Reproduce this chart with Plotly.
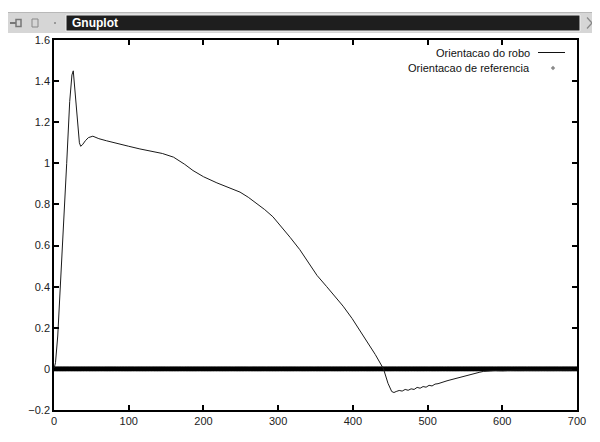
import plotly.graph_objects as go

# ---- data ----
robo_t = [0, 2, 5, 9, 12.5, 17, 21, 24, 25.8, 27.5, 30, 32, 34, 35.7, 38, 42, 46, 52, 60, 70,
          80, 90, 100, 115, 130, 145, 160, 175, 186, 200, 218, 235, 249, 260, 271, 282, 293, 305,
          316, 329, 340, 352, 365, 375, 387, 399, 410, 419, 430, 441, 447, 452, 455,
          458, 462, 466, 470, 474, 478, 482, 486, 490, 494, 498, 502, 506, 510, 514, 518,
          522, 526, 530, 534, 538, 542, 546, 550, 555, 560, 565, 570, 575, 580, 590, 600,
          620, 640, 660, 680, 700]
robo_val = [0.0, 0.03, 0.16, 0.42, 0.68, 1.0, 1.3, 1.43, 1.45, 1.38, 1.25, 1.17, 1.1, 1.083,
            1.09, 1.11, 1.125, 1.132, 1.12, 1.11, 1.1, 1.09, 1.083, 1.07, 1.06, 1.048, 1.03,
            0.995, 0.965, 0.935, 0.905, 0.88, 0.86, 0.835, 0.805, 0.775, 0.74, 0.69, 0.64, 0.58,
            0.52, 0.455, 0.40, 0.355, 0.305, 0.245, 0.185, 0.135, 0.07, 0.0, -0.07, -0.11,
            -0.115, -0.11, -0.105, -0.108, -0.1, -0.104, -0.097, -0.1, -0.09, -0.094, -0.086,
            -0.089, -0.08, -0.083, -0.074, -0.072, -0.066, -0.062, -0.058, -0.054, -0.05,
            -0.045, -0.042, -0.038, -0.034, -0.028, -0.024, -0.02, -0.016, -0.012, -0.01,
            -0.008, -0.009, -0.006, -0.007, -0.005, -0.006, -0.005]

ref_t = list(range(0, 701))
ref_val = [0.0] * len(ref_t)

x_ticks = [0, 100, 200, 300, 400, 500, 600, 700]
x_tick_labels = ["0", "100", "200", "300", "400", "500", "600", "700"]
y_ticks = [-0.2, 0, 0.2, 0.4, 0.6, 0.8, 1, 1.2, 1.4, 1.6]
y_tick_labels = ["\u22120.2", "0", "0.2", "0.4", "0.6", "0.8", "1", "1.2", "1.4", "1.6"]

legend_labels = ["Orientacao do robo", "Orientacao de referencia"]
window_title = "Gnuplot"

# ---- layout geometry (reference pixels; page body adds an 8px offset) ----
OFF = 8
W, H = 600 - OFF, 442 - OFF
L, R, T, B = 54, 577, 40, 410


def px(x):
    return (x - L) / (R - L)


def py(y):
    return (B - y) / (B - T)


FONT = "Liberation Sans, Arial, sans-serif"

fig = go.Figure()
fig.add_trace(go.Scatter(x=ref_t, y=ref_val, mode="markers",
                         marker=dict(symbol="diamond", size=4, color="#000000", line=dict(width=0)),
                         showlegend=False, hoverinfo="skip"))
fig.add_trace(go.Scatter(x=robo_t, y=robo_val, mode="lines",
                         line=dict(color="#1a1a1a", width=1), showlegend=False))

axis_common = dict(showgrid=False, zeroline=False, showline=True, linecolor="black",
                   linewidth=1.5, mirror="allticks", ticks="inside", ticklen=5,
                   tickwidth=1.5, tickcolor="black",
                   tickfont=dict(family=FONT, size=11, color="#222"))

fig.update_xaxes(range=[0, 700], tickvals=x_ticks, ticktext=x_tick_labels, **axis_common)
fig.update_yaxes(range=[-0.2, 1.6], tickvals=y_ticks, ticktext=y_tick_labels, **axis_common)

shapes = []
# window frame (outside plot area)
shapes.append(dict(type="rect", xref="paper", yref="paper", x0=px(5), x1=px(600), y0=py(12), y1=py(33),
                   fillcolor="#d6d6d6", line=dict(width=0), layer="below"))
shapes.append(dict(type="line", xref="paper", yref="paper", x0=px(5), x1=px(600), y0=py(12.5), y1=py(12.5),
                   line=dict(color="#b8b8b8", width=1)))
# dark title bar
shapes.append(dict(type="rect", xref="paper", yref="paper", x0=px(66), x1=px(580), y0=py(15), y1=py(31),
                   fillcolor="#1e1e1e", line=dict(color="#f0f0f0", width=1)))
# icons
shapes.append(dict(type="line", xref="paper", yref="paper", x0=px(10), x1=px(16), y0=py(23), y1=py(23),
                   line=dict(color="#777", width=2)))
shapes.append(dict(type="rect", xref="paper", yref="paper", x0=px(16), x1=px(21), y0=py(19.5), y1=py(26.5),
                   line=dict(color="#777", width=1.5)))
shapes.append(dict(type="rect", xref="paper", yref="paper", x0=px(32), x1=px(38), y0=py(19), y1=py(27),
                   line=dict(color="#888", width=1)))
shapes.append(dict(type="rect", xref="paper", yref="paper", x0=px(54), x1=px(56), y0=py(22), y1=py(24),
                   fillcolor="#999", line=dict(width=0)))
shapes.append(dict(type="line", xref="paper", yref="paper", x0=px(587), x1=px(597), y0=py(17.5), y1=py(28.5),
                   line=dict(color="#888", width=1.2)))
shapes.append(dict(type="line", xref="paper", yref="paper", x0=px(587), x1=px(597), y0=py(28.5), y1=py(17.5),
                   line=dict(color="#888", width=1.2)))
# legend samples
shapes.append(dict(type="line", xref="paper", yref="paper", x0=px(538), x1=px(565), y0=py(52.5), y1=py(52.5),
                   line=dict(color="#111", width=1)))
cx, cy, d = 553, 68, 2.2
shapes.append(dict(type="path", xref="paper", yref="paper",
                   path=f"M {px(cx)},{py(cy - d)} L {px(cx + d)},{py(cy)} L {px(cx)},{py(cy + d)} L {px(cx - d)},{py(cy)} Z",
                   fillcolor="#8a8a8a", line=dict(width=0)))

annotations = [
    dict(text=window_title, xref="paper", yref="paper", x=px(70), y=py(23.5), xanchor="left",
         yanchor="middle", showarrow=False,
         font=dict(family=FONT, size=12, color="white", weight="bold")),
    dict(text=legend_labels[0], xref="paper", yref="paper", x=px(532), y=py(52.5), xanchor="right",
         yanchor="middle", showarrow=False, font=dict(family=FONT, size=11, color="#111")),
    dict(text=legend_labels[1], xref="paper", yref="paper", x=px(532), y=py(68), xanchor="right",
         yanchor="middle", showarrow=False, font=dict(family=FONT, size=11, color="#111")),
]

fig.update_layout(width=W, height=H,
                  margin=dict(l=L - OFF, r=W - (R - OFF), t=T - OFF, b=H - (B - OFF), pad=0),
                  paper_bgcolor="white", plot_bgcolor="white", showlegend=False,
                  shapes=shapes, annotations=annotations)

fig.write_html("out.html")
